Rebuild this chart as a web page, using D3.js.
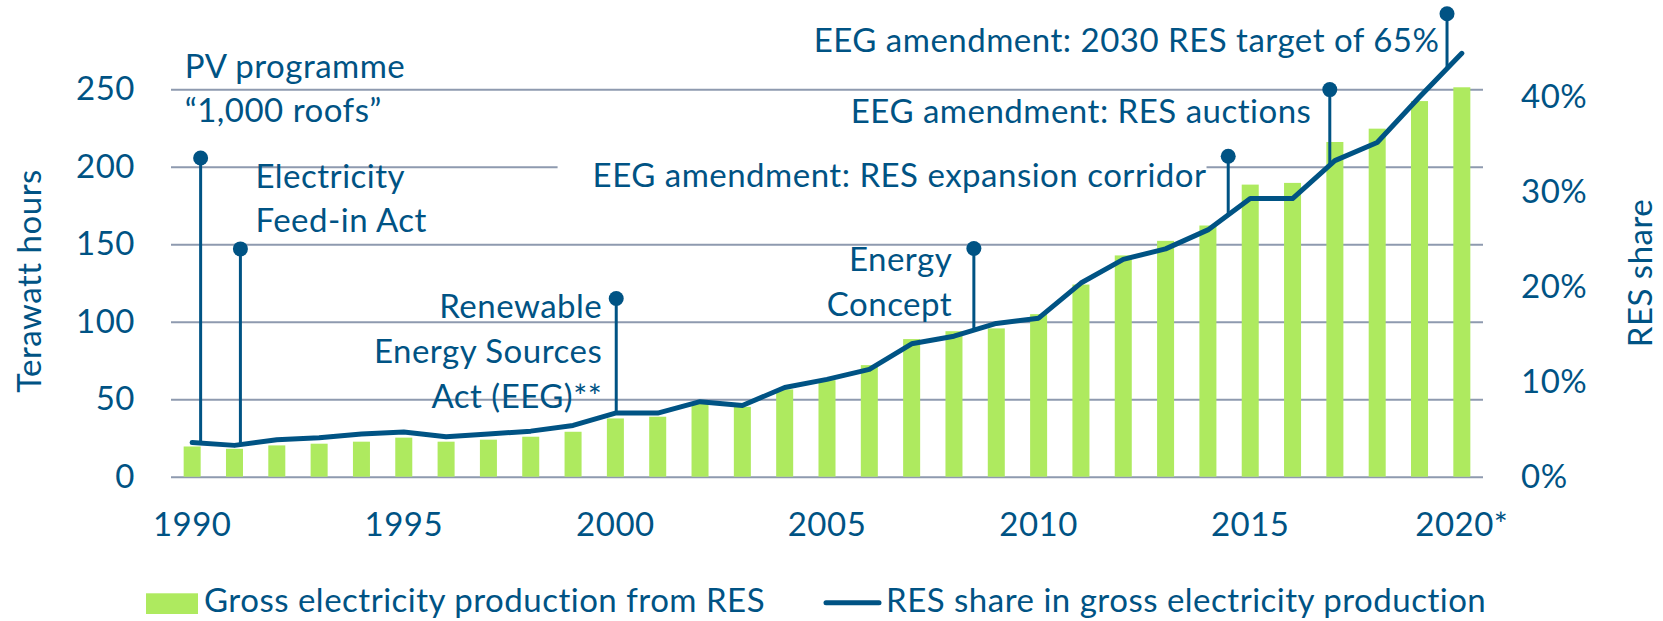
<!DOCTYPE html>
<html>
<head>
<meta charset="utf-8">
<script src="https://cdn.jsdelivr.net/npm/d3@7"></script>
<style>
  html, body { margin: 0; padding: 0; background: #ffffff; }
  svg { display: block; }
  text { font-family: Lato, "Open Sans", sans-serif; fill: #005384; letter-spacing: 0.5px; }
</style>
</head>
<body>
<svg id="chart" width="1663" height="621"></svg>
<script>
// ---------- data ----------
const years = d3.range(1990, 2021);
const productionTWh = [19.5, 18.0, 20.2, 21.3, 22.6, 25.2, 22.6, 23.9, 25.8, 29.0,
  37.6, 38.7, 46.9, 45.1, 56.3, 62.3, 72.0, 88.8, 93.9, 95.7,
  104.9, 124.0, 142.8, 152.2, 162.1, 188.5, 189.6, 216.0, 224.6, 242.4, 251.3];
const resSharePct = [3.6, 3.3, 3.9, 4.1, 4.5, 4.7, 4.2, 4.5, 4.8, 5.4,
  6.7, 6.7, 7.9, 7.5, 9.4, 10.25, 11.3, 14.0, 14.8, 16.15,
  16.7, 20.4, 22.9, 24.0, 26.0, 29.3, 29.3, 33.3, 35.2, 40.0, 44.6];
const leftTicks = [0, 50, 100, 150, 200, 250];
const rightTicks = [0, 10, 20, 30, 40];
const xTickYears = [1990, 1995, 2000, 2005, 2010, 2015, 2020];
const xTickLabels = ["1990", "1995", "2000", "2005", "2010", "2015", "2020*"];
const annotationYears = [1990.2, 1991.14, 2000.02, 2008.47, 2014.48, 2016.88, 2019.65];
const annotationDotTWh = [205.7, 147.0, 115.0, 147.3, 206.8, 249.8, 298.8];
const annotationTexts = [
  ["PV programme", "\u201C1,000 roofs\u201D"],
  ["Electricity", "Feed-in Act"],
  ["Renewable", "Energy Sources", "Act (EEG)**"],
  ["Energy", "Concept"],
  ["EEG amendment: RES expansion corridor"],
  ["EEG amendment: RES auctions"],
  ["EEG amendment: 2030 RES target of 65%"]
];
const legendLabels = ["Gross electricity production from RES", "RES share in gross electricity production"];
const leftTitle = "Terawatt hours";
const rightTitle = "RES share";

// ---------- styles / layout ----------
const BLUE = "#005384", GREEN = "#aeea5f", GRID = "#8e9aaf";
const FS = 33;
const plot = { left: 171, right: 1483, top: 89.3, bottom: 476.7 };

const svg = d3.select("#chart");
svg.append("rect").attr("width", 1663).attr("height", 621).attr("fill", "#fff");

const xb = d3.scaleBand().domain(years).range([plot.left, plot.right])
  .paddingInner(0.598).paddingOuter(0.299);
const xc = d3.scaleLinear().domain([1990, 2020])
  .range([xb(1990) + xb.bandwidth() / 2, xb(2020) + xb.bandwidth() / 2]);
const yL = d3.scaleLinear().domain([0, 250]).range([plot.bottom, plot.top]);
const yR = d3.scaleLinear().domain([0, 40]).range([plot.bottom, 97]);

// gridlines
const grid = svg.append("g").attr("transform", `translate(${plot.left},0)`)
  .call(d3.axisLeft(yL).tickValues(leftTicks).tickSize(-(plot.right - plot.left)).tickFormat(""));
grid.select(".domain").remove();
grid.selectAll("line").attr("stroke", GRID).attr("stroke-width", 2);

// left tick labels
const la = svg.append("g").attr("transform", `translate(${plot.left},0)`)
  .call(d3.axisLeft(yL).tickValues(leftTicks).tickSize(0).tickPadding(36));
la.select(".domain").remove();
la.selectAll("text").style("font-size", FS + "px").attr("fill", BLUE);

// right tick labels
const ra = svg.append("g").attr("transform", `translate(${plot.right},0)`)
  .call(d3.axisRight(yR).tickValues(rightTicks).tickSize(0).tickPadding(38).tickFormat(d => d + "%"));
ra.select(".domain").remove();
ra.selectAll("text").style("font-size", FS + "px").attr("fill", BLUE);

// bottom labels
const ba = svg.append("g").attr("transform", `translate(0,${plot.bottom})`)
  .call(d3.axisBottom(xb).tickValues(xTickYears).tickSize(0).tickPadding(36)
    .tickFormat(d => xTickLabels[xTickYears.indexOf(d)]));
ba.select(".domain").remove();
ba.selectAll("text").style("font-size", FS + "px").attr("fill", BLUE);

const annLayer = svg.append("g");

// bars
svg.append("g").selectAll("rect").data(years).join("rect")
  .attr("x", d => xb(d)).attr("width", xb.bandwidth())
  .attr("y", (d, i) => yL(productionTWh[i]))
  .attr("height", (d, i) => yL(0) - yL(productionTWh[i]))
  .attr("fill", GREEN);

// share line
const shareAt = yr => {
  const i = Math.min(Math.floor(yr - 1990), years.length - 2);
  const t = yr - 1990 - i;
  return resSharePct[i] * (1 - t) + resSharePct[i + 1] * t;
};
svg.append("path")
  .datum(years.map((y, i) => [y, resSharePct[i]]))
  .attr("d", d3.line().x(d => xc(d[0])).y(d => yR(d[1])))
  .attr("fill", "none").attr("stroke", BLUE).attr("stroke-width", 5)
  .attr("stroke-linejoin", "round").attr("stroke-linecap", "round");

// annotations
const labelLayout = [
  { anchor: "start", dx: -16, dy: -80.4 },
  { anchor: "start", dx: 15, dy: -61.4 },
  { anchor: "end", dx: -14, dy: 20 },
  { anchor: "end", dx: -21.7, dy: 22.4 },
  { anchor: "end", dx: -21.7, dy: 30.7, bg: true },
  { anchor: "end", dx: -18.4, dy: 33.2 },
  { anchor: "end", dx: -7.6, dy: 38.4 }
];
const LH = 44.8;
annotationYears.forEach((yr, k) => {
  const x = xc(yr), yDot = yL(annotationDotTWh[k]), yEnd = yR(shareAt(yr));
  const lay = labelLayout[k];
  const g = svg.append("g");
  g.append("line").attr("x1", x).attr("x2", x).attr("y1", yDot).attr("y2", yEnd)
    .attr("stroke", BLUE).attr("stroke-width", 3);
  g.append("circle").attr("cx", x).attr("cy", yDot).attr("r", 7.5).attr("fill", BLUE);
  const t = annLayer.append("text").attr("text-anchor", lay.anchor)
    .style("font-size", FS + "px");
  annotationTexts[k].forEach((s, j) => {
    t.append("tspan").attr("x", x + lay.dx).attr("y", yDot + lay.dy + j * LH).text(s);
  });
  if (lay.bg) {
    const bb = t.node().getBBox();
    annLayer.insert("rect", "text").attr("x", bb.x - 35).attr("y", bb.y - 4)
      .attr("width", bb.width + 35).attr("height", bb.height + 8).attr("fill", "#fff");
  }
});

// axis titles
svg.append("text").attr("transform", `translate(41,281) rotate(-90)`)
  .attr("text-anchor", "middle").style("font-size", FS + "px").text(leftTitle);
svg.append("text").attr("transform", `translate(1652,273) rotate(-90)`)
  .attr("text-anchor", "middle").style("font-size", FS + "px").text(rightTitle);

// legend
const lg = svg.append("g");
lg.append("rect").attr("x", 146).attr("y", 593.3).attr("width", 52).attr("height", 20.7).attr("fill", GREEN);
lg.append("text").attr("x", 204).attr("y", 611.7).style("font-size", FS + "px").text(legendLabels[0]);
lg.append("line").attr("x1", 826).attr("x2", 879).attr("y1", 602.7).attr("y2", 602.7)
  .attr("stroke", BLUE).attr("stroke-width", 5).attr("stroke-linecap", "round");
lg.append("text").attr("x", 886).attr("y", 611.7).style("font-size", FS + "px").text(legendLabels[1]);
</script>
</body>
</html>
